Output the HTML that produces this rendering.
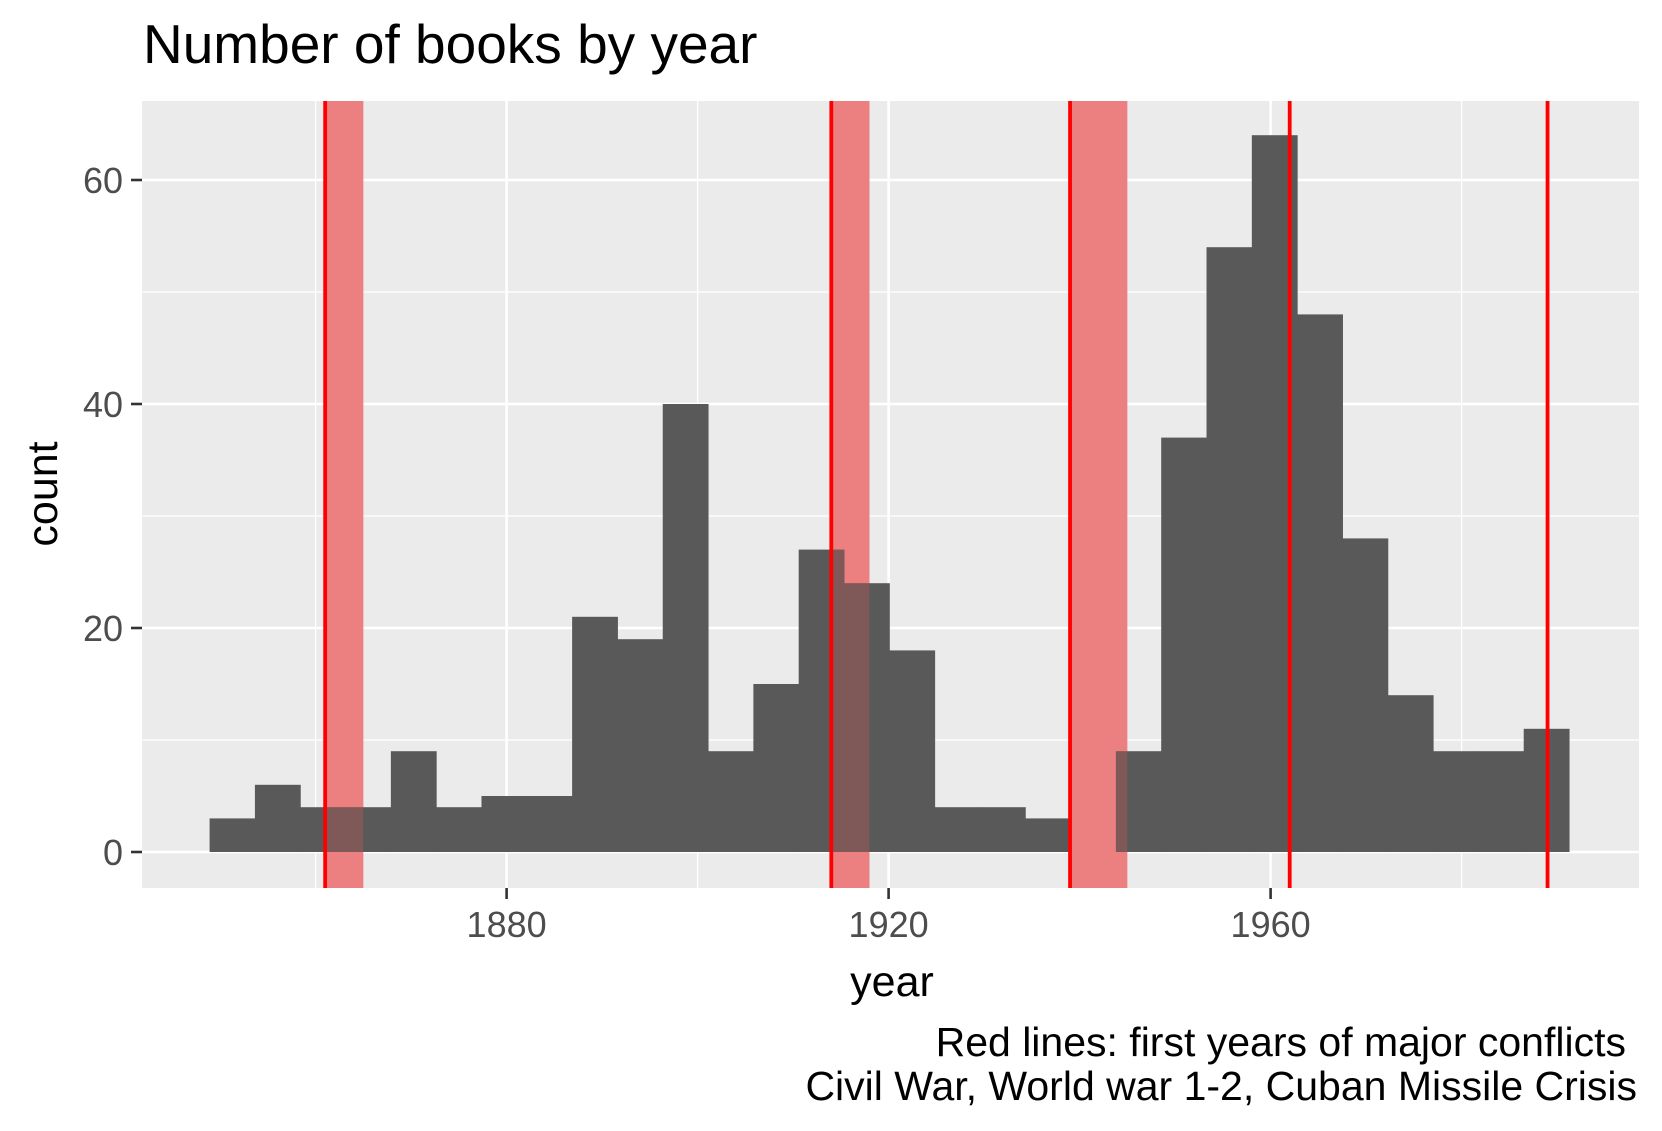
<!DOCTYPE html>
<html><head><meta charset="utf-8"><style>
html,body{margin:0;padding:0;background:#fff;}
svg{display:block;font-family:"Liberation Sans",Arial,sans-serif;}
</style></head><body>
<svg id="chart" width="1662" height="1131" viewBox="0 0 1662 1131" xmlns="http://www.w3.org/2000/svg">
<text x="143" y="63" font-size="55" fill="#000">Number of books by year</text>
<rect x="142" y="101" width="1497" height="787" fill="#ebebeb"/>
<g id="grid"></g>
<g id="rects"></g>
<g id="bars"></g>
<clipPath id="barclip"></clipPath>
<g id="overlap" clip-path="url(#barclip)"></g>
<g id="vlines"></g>
<g id="axes"></g>
<text x="892" y="996" font-size="43" text-anchor="middle" fill="#000">year</text>
<text transform="translate(57,494) rotate(-90)" font-size="43" text-anchor="middle" fill="#000">count</text>
<text x="1626" y="1056" font-size="41" text-anchor="end" fill="#000">Red lines: first years of major conflicts</text>
<text x="1637" y="1100" font-size="41" text-anchor="end" fill="#000">Civil War, World war 1-2, Cuban Missile Crisis</text>
</svg>
<script>
const binStart = 1848.9;
const binWidth = 4.745;
const counts = [3,6,4,4,9,4,5,5,21,19,40,9,15,27,24,18,4,4,3,0,9,37,54,64,48,28,14,9,9,11];
const conflictStarts = [1861,1914,1939,1962,1989];
const spanStarts = [1861,1914,1939];
const spanEnds = [1865,1918,1945];
const xTicks = [1880,1920,1960];
const xMinor = [1860,1900,1940,1980];
const yTicks = [0,20,40,60];
const yMinor = [10,30,50];

const NS = "http://www.w3.org/2000/svg";
const X = yr => 1270.6 + (yr - 1960) * 9.55;
const Y = v => 852 - v * 11.2;
const PL = 142, PR = 1639, PT = 101, PB = 888;
function mk(tag, attrs, parent){const e=document.createElementNS(NS,tag);for(const k in attrs)e.setAttribute(k,attrs[k]);parent.appendChild(e);return e;}

const grid = document.getElementById('grid');
yMinor.forEach(v=>{const l=mk('line',{x1:PL,x2:PR,y1:Y(v),y2:Y(v),stroke:'#fff','stroke-width':1.3},grid);

});
xMinor.forEach(v=>{const l=mk('line',{x1:X(v),x2:X(v),y1:PT,y2:PB,stroke:'#fff','stroke-width':1.3},grid);

});
yTicks.forEach(v=>{const l=mk('line',{x1:PL,x2:PR,y1:Y(v),y2:Y(v),stroke:'#fff','stroke-width':2.6},grid);

});
xTicks.forEach(v=>{const l=mk('line',{x1:X(v),x2:X(v),y1:PT,y2:PB,stroke:'#fff','stroke-width':2.6},grid);

});

const rects = document.getElementById('rects');
const overlap = document.getElementById('overlap');
spanStarts.forEach((s,i)=>{
  const r=mk('rect',{x:X(s),y:PT,width:X(spanEnds[i])-X(s),height:PB-PT,fill:'#ec7f7f'},rects);
  
  
  const o=mk('rect',{x:X(s),y:PT,width:X(spanEnds[i])-X(s),height:PB-PT,fill:'rgb(255,85,85)','fill-opacity':0.23},overlap);
  
  
});

const bars = document.getElementById('bars');
const clip = document.getElementById('barclip');
counts.forEach((c,i)=>{
  if(c<=0) return;
  const x0=X(binStart+i*binWidth), x1=X(binStart+(i+1)*binWidth);
  const b=mk('rect',{x:x0,y:Y(c),width:x1-x0+0.5,height:Y(0)-Y(c),fill:'#595959'},bars);
  
  
  mk('rect',{x:x0,y:Y(c),width:x1-x0+0.5,height:Y(0)-Y(c)},clip);
});

const vl = document.getElementById('vlines');
conflictStarts.forEach(s=>{
  const l=mk('line',{x1:X(s),x2:X(s),y1:PT,y2:PB,stroke:'#ff0000','stroke-width':3.8},vl);
  
  
});

const ax = document.getElementById('axes');
yTicks.forEach(v=>{
  const t=mk('line',{x1:PL-11,x2:PL,y1:Y(v),y2:Y(v),stroke:'#333','stroke-width':2.6},ax);
  
  
  const lb=mk('text',{x:PL-19,y:Y(v)+13,'font-size':36,'text-anchor':'end',fill:'#4d4d4d'},ax);
  lb.textContent=v;
  
  
});
xTicks.forEach(v=>{
  const t=mk('line',{x1:X(v),x2:X(v),y1:PB,y2:PB+11,stroke:'#333','stroke-width':2.6},ax);
  
  
  const lb=mk('text',{x:X(v),y:PB+49,'font-size':36,'text-anchor':'middle',fill:'#4d4d4d'},ax);
  lb.textContent=v;
  
  
});
</script>
</body></html>
